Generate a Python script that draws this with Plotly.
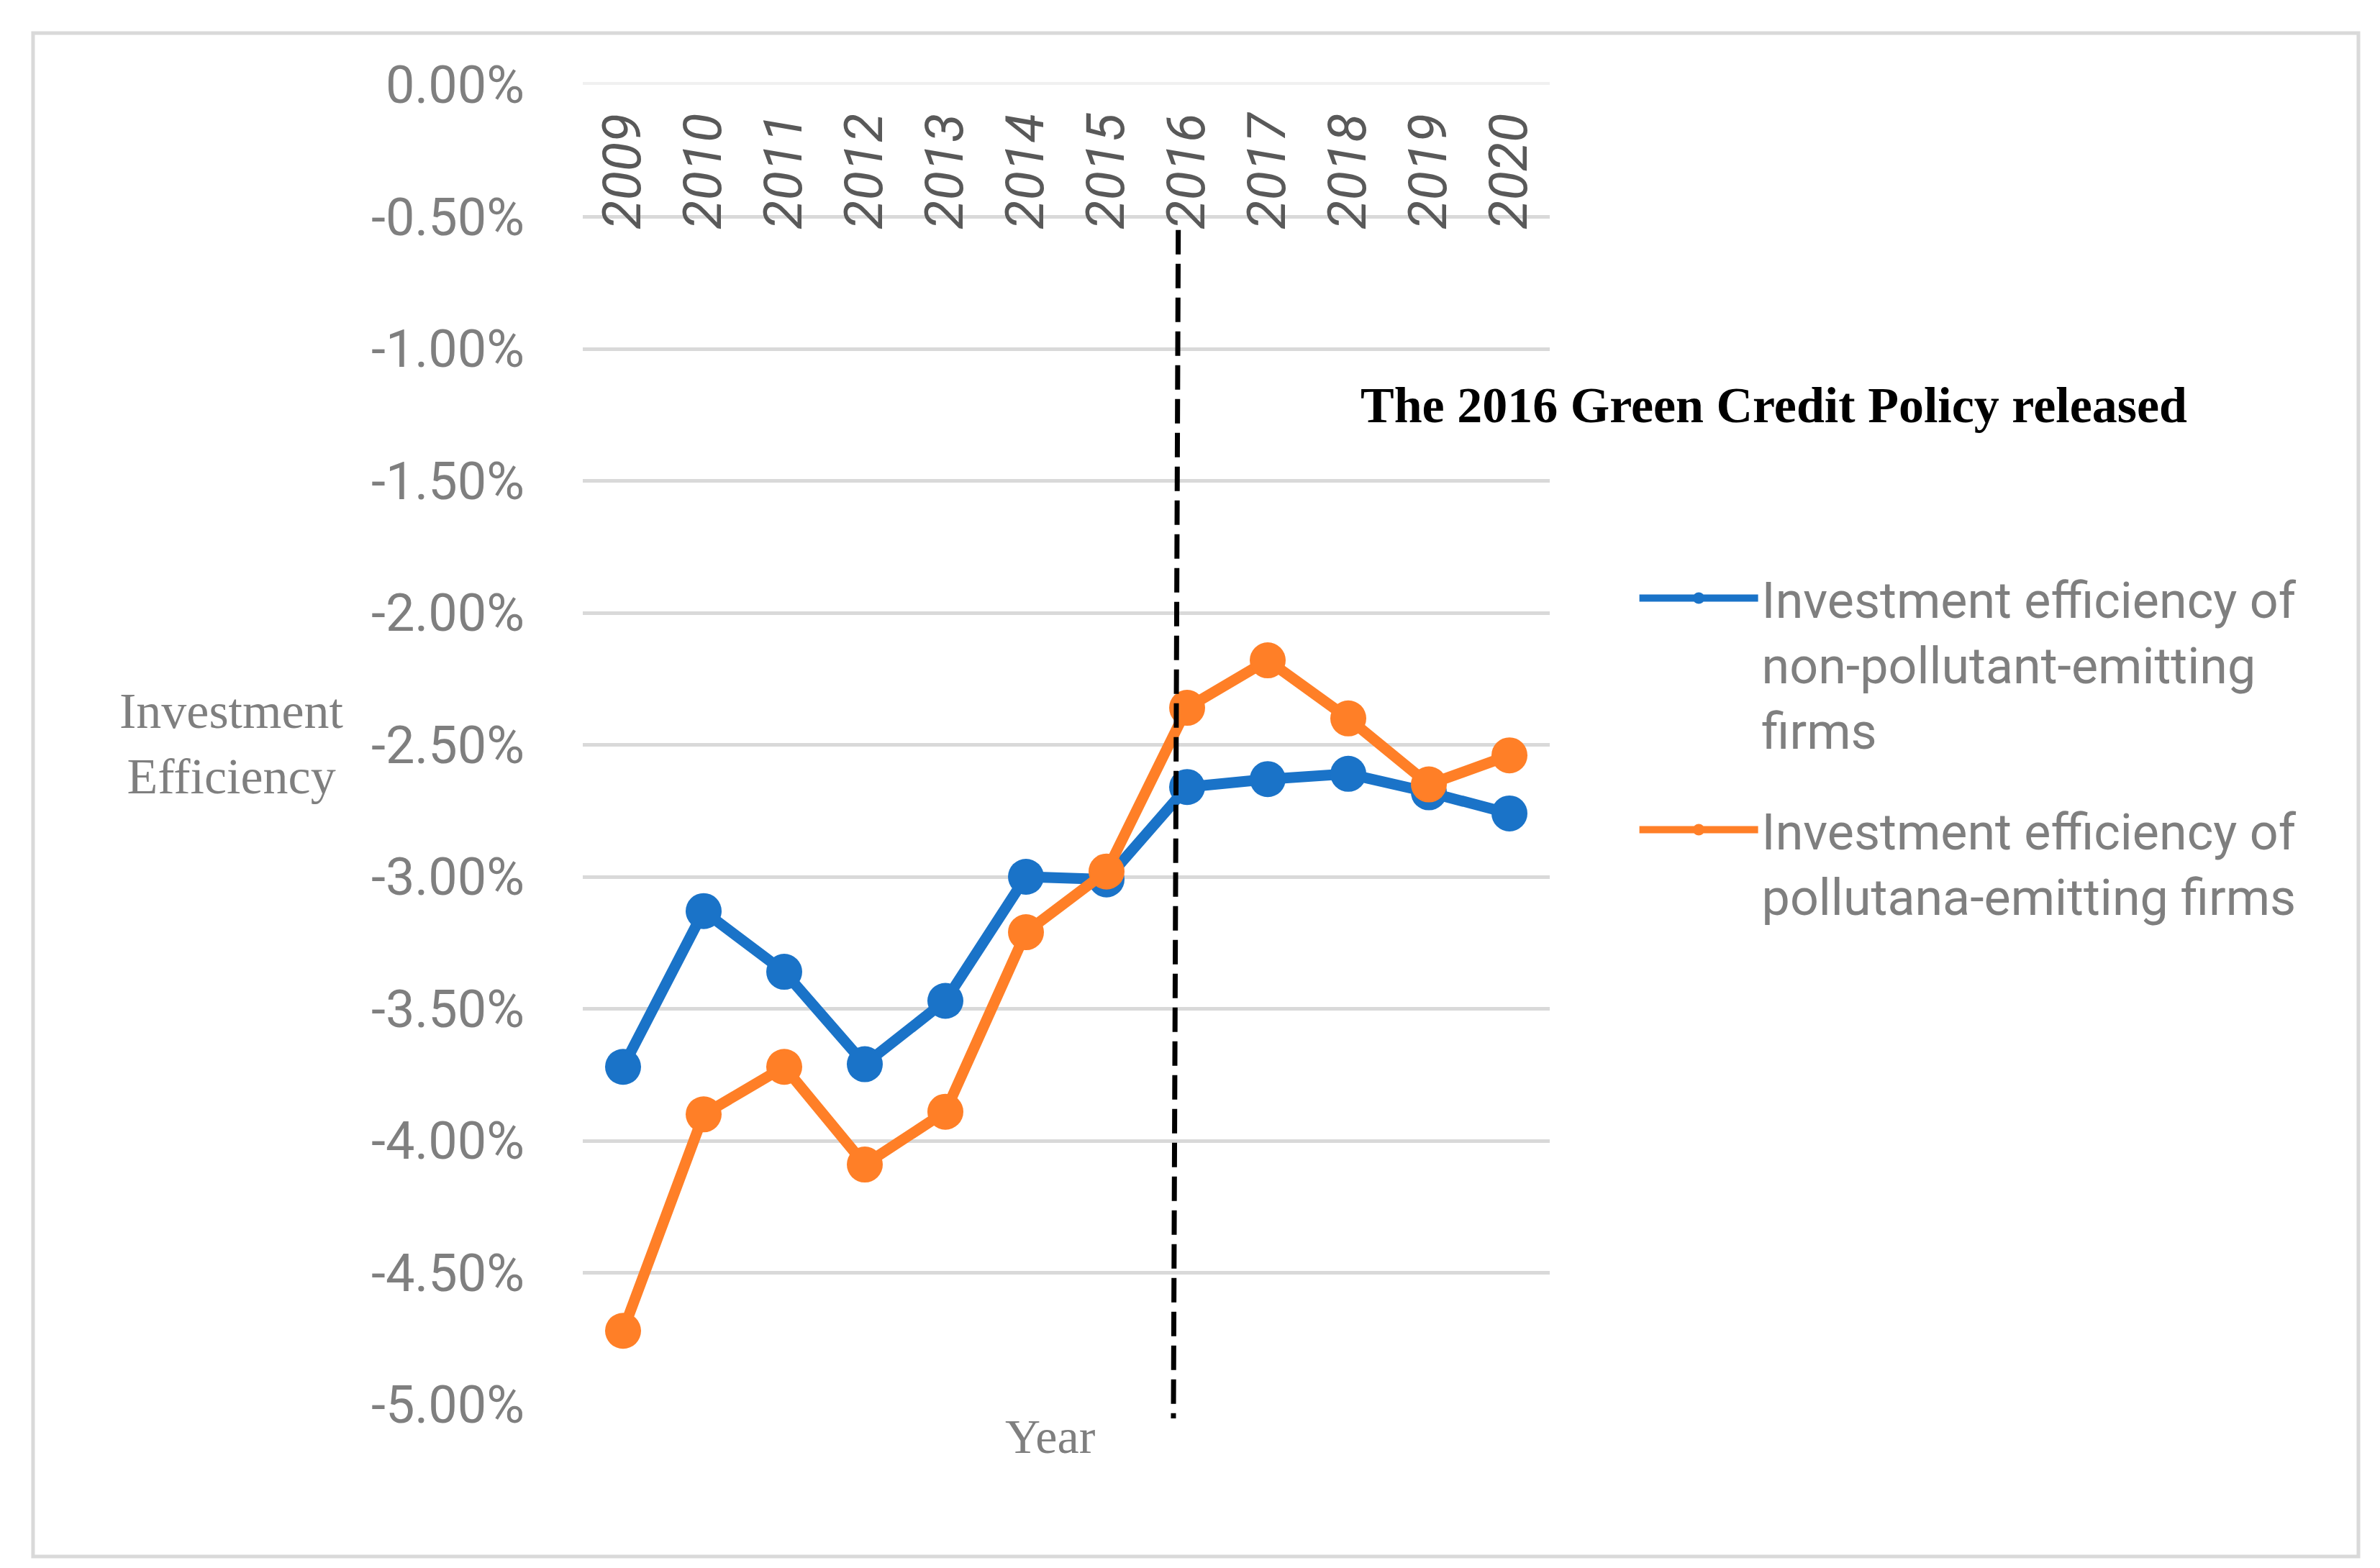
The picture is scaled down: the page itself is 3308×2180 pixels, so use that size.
import plotly.graph_objects as go

years = ["2009", "2010", "2011", "2012", "2013", "2014", "2015", "2016", "2017", "2018", "2019", "2020"]
non_polluting = [-3.72, -3.13, -3.36, -3.71, -3.47, -3.00, -3.01, -2.66, -2.63, -2.61, -2.68, -2.76]
polluting = [-4.72, -3.90, -3.72, -4.09, -3.89, -3.21, -2.98, -2.36, -2.18, -2.40, -2.65, -2.54]
series_names = [
    "Investment efficiency of<br>non-pollutant-emitting<br>firms",
    "Investment efficiency of<br>pollutana-emitting firms",
]
y_tick_values = [0, -0.5, -1.0, -1.5, -2.0, -2.5, -3.0, -3.5, -4.0, -4.5, -5.0]
y_tick_labels = ["0.00%", "-0.50%", "-1.00%", "-1.50%", "-2.00%", "-2.50%",
                 "-3.00%", "-3.50%", "-4.00%", "-4.50%", "-5.00%"]
policy_text = "The 2016 Green Credit Policy released"
policy_line_x = [6.89, 6.83]

BLUE = "#1a73c8"
ORANGE = "#ff7f27"
SANS = "Roboto, sans-serif"
SERIF = "Liberation Serif, serif"

fig = go.Figure()
for vals, name, col in [(non_polluting, series_names[0], BLUE), (polluting, series_names[1], ORANGE)]:
    fig.add_trace(go.Scatter(
        x=years, y=vals, mode="lines+markers", name=name, legendgroup=name,
        line=dict(color=col, width=15),
        marker=dict(color=col, size=50),
    ))

# carrier for the year tick labels drawn inside the plot area
fig.add_trace(go.Scatter(x=years, y=[None] * len(years), xaxis="x2", yaxis="y",
                         mode="markers", showlegend=False, hoverinfo="skip"))

fig.update_layout(
    width=3308, height=2180,
    margin=dict(l=802, r=1162, t=110, b=235),
    paper_bgcolor="white", plot_bgcolor="white",
    showlegend=True,
    legend=dict(
        x=1.089, y=0.6395, xanchor="left", yanchor="top",
        font=dict(family=SANS, size=70, color="#7f7f7f"),
        bgcolor="rgba(0,0,0,0)", valign="top", tracegroupgap=46,
        itemwidth=165,
    ),
    xaxis=dict(
        type="category", range=[-0.5, 11.5], side="top",
        showticklabels=False, ticks="",
        showgrid=False, zeroline=False,
        showline=True, linecolor="#f0f0f0", linewidth=4,
    ),
    xaxis2=dict(
        type="category", range=[-0.5, 11.5], overlaying="x", anchor="free",
        position=0.987, side="bottom", tickangle=-90, ticks="",
        tickfont=dict(family=SANS, size=74, color="#595959", style="italic"),
        showgrid=False, zeroline=False, showline=False,
    ),
    yaxis=dict(
        range=[-5.0, 0.0], tickvals=y_tick_values, ticktext=y_tick_labels,
        ticks="", ticklabelstandoff=80,
        tickfont=dict(family=SANS, size=72, color="#7f7f7f"),
        showgrid=True, gridcolor="#d9d9d9", gridwidth=5, zeroline=False,
        showline=False,
    ),
)

# outer frame
fig.add_shape(type="rect", xref="paper", yref="paper",
              x0=-0.5685, x1=1.8363, y0=-0.115, y1=1.0392,
              line=dict(color="#d9d9d9", width=5), fillcolor="rgba(0,0,0,0)", layer="below")

# policy dashed line
fig.add_shape(type="line", xref="x", yref="paper",
              x0=policy_line_x[0], x1=policy_line_x[1], y0=0.89, y1=-0.0104,
              line=dict(color="black", width=7, dash="34px,13px"), layer="above")

fig.add_annotation(text="<b>" + policy_text + "</b>", xref="paper", yref="paper",
                   x=0.803, y=0.757, xanchor="left", yanchor="middle", showarrow=False,
                   font=dict(family=SERIF, size=70, color="black"))
fig.add_annotation(text="Investment<br>Efficiency", xref="paper", yref="paper",
                   x=-0.363, y=0.501, xanchor="center", yanchor="middle", showarrow=False,
                   font=dict(family=SERIF, size=70, color="#7f7f7f"))
fig.add_annotation(text="Year", xref="paper", yref="paper",
                   x=0.4836, y=-0.024, xanchor="center", yanchor="middle", showarrow=False,
                   font=dict(family=SERIF, size=68, color="#7f7f7f"))

fig.write_html("out.html")
